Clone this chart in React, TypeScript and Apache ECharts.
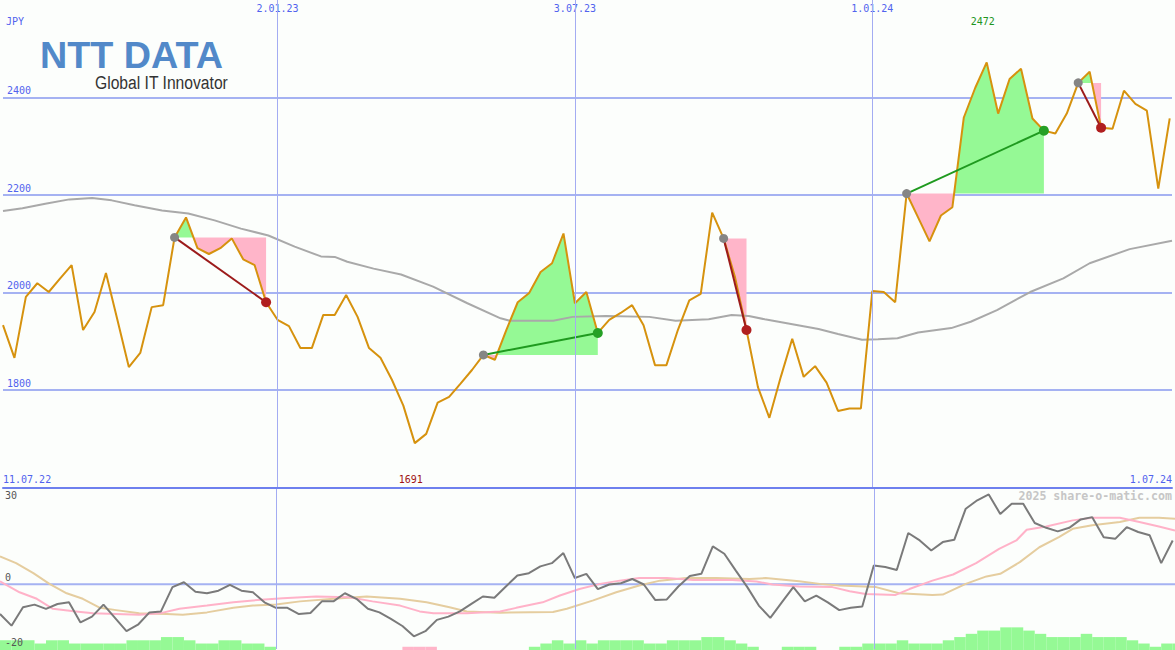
import React, { useEffect, useRef } from "react";
import * as echarts from "echarts";

// ---------- data (week index k = 0 .. 102) ----------
const priceValues = [
  1933, 1866, 1991, 2019, 2001, 2029, 2056, 1923, 1960, 2040,
  1944, 1847, 1876, 1970, 1974, 2113, 2154, 2091, 2079, 2091,
  2111, 2068, 2056, 1980, 1944, 1931, 1886, 1886, 1954, 1954,
  1995, 1950, 1886, 1866, 1821, 1768, 1691, 1710, 1774, 1786,
  1813, 1841, 1872, 1862, 1923, 1980, 1999, 2042, 2060, 2121,
  1978, 2001, 1917, 1944, 1958, 1974, 1933, 1851, 1851, 1923,
  1984, 1997, 2164, 2111, 2031, 1923, 1806, 1743, 1827, 1905,
  1827, 1849, 1815, 1757, 1762, 1762, 2003, 2001, 1980, 2203,
  2154, 2105, 2158, 2175, 2359, 2420, 2472, 2367, 2438, 2459,
  2357, 2332, 2326, 2367, 2430, 2453, 2338, 2336, 2414, 2387,
  2373, 2213, 2357,
];

const maLine = [
  [0, 2167], [1.7, 2173], [3.7, 2182], [5.8, 2191], [7.8, 2194], [9.5, 2189],
  [11.5, 2179], [13.9, 2168], [16.2, 2162], [18.5, 2148], [20.8, 2131], [23.2, 2117],
  [25.5, 2094], [27.8, 2074], [29, 2073], [30.1, 2063], [32.4, 2049], [34.8, 2037],
  [37.6, 2012], [40.6, 1978], [43.5, 1947], [44.3, 1942], [48.1, 1942], [49.8, 1950],
  [52.7, 1952], [56.5, 1950], [58.8, 1942], [61.7, 1945], [63.7, 1954], [65.2, 1952],
  [66.6, 1945], [69.5, 1933], [71.3, 1925], [73, 1915], [75.1, 1903], [76.5, 1904],
  [78.2, 1906], [80, 1918], [82.9, 1927], [84.6, 1940], [86.9, 1964], [89.8, 2001],
  [92.7, 2029], [95, 2060], [98.5, 2089], [102.2, 2106],
];

const oscValues = [
  -9.2, -12.8, -7.1, -6.3, -7.6, -6.1, -5.6, -11.8, -10, -6.3,
  -10.4, -14.5, -12.5, -8.7, -8.4, -0.9, 0.6, -2.3, -2.8, -2,
  -0.2, -2, -2.5, -5.6, -7.3, -7.3, -9.2, -8.9, -5.3, -5.3,
  -2.8, -4.5, -7.6, -8.7, -10.7, -12.9, -16.1, -14.5, -11, -10,
  -8.4, -6.1, -3.8, -4.2, -0.7, 2.7, 3.4, 5.5, 6.5, 9.6,
  1.9, 3.2, -1.5, -0.1, 0.3, 1.6, -0.1, -4.9, -4.7, -0.7,
  2.5, 3.2, 11.7, 9.4, 4.2, -0.9, -6.6, -10.4, -5.6, -0.9,
  -5.3, -3.5, -5.6, -8, -7.3, -6.9, 5.8, 5.3, 4.4, 15.8,
  13.5, 10.4, 13, 13.7, 23.3, 25.9, 27.7, 21.7, 24.8, 24.8,
  18.9, 17.4, 16.3, 17.4, 20, 20.7, 14.5, 14, 17.6, 16.1,
  15.1, 6.5, 13.5,
];

const pinkLine = [
  [0, 0.9], [1.7, -2.5], [3.2, -4.5], [4.6, -7.6], [6.6, -8.4], [8.1, -9.0],
  [10.1, -9.2], [12.1, -9.4], [13.9, -9.0], [15.6, -7.6], [18, -6.6], [20.3, -5.6],
  [22, -5.0], [24.6, -4.3], [27.5, -3.8], [30.4, -4.0], [32.4, -5.3], [34.8, -6.6],
  [36.5, -8.4], [37.7, -9.0], [40.6, -9.0], [43.5, -8.4], [44.9, -7.3], [47.2, -5.6],
  [48.7, -3.5], [50.4, -1.5], [52.2, 0.1], [53.9, 1.1], [55.6, 1.9], [58, 1.9],
  [60.3, 1.3], [63.7, 1.3], [65.8, 0.8], [67.2, -0.1], [69.5, -0.7], [72.4, -0.9],
  [73.9, -2.2], [75.3, -3.0], [77.9, -3.3], [79.1, -1.5], [81.1, 1.1], [82.9, 3.0],
  [84.9, 6.5], [86.9, 10.9], [88.4, 13.5], [89.3, 16.8], [91, 17.8], [93.3, 19.7],
  [95, 20.5], [97.4, 20.5], [99.1, 19.2], [100.8, 17.8], [102.2, 16.6],
];

const tanLine = [
  [0, 8.6], [1.4, 6.5], [2.9, 3.4], [4.3, 0.1], [5.8, -2.8], [7.2, -4.5],
  [8.7, -7.3], [10.1, -8.0], [12.1, -9.0], [14.5, -9.2], [15.9, -9.4], [18, -8.7],
  [20.3, -7.3], [22, -6.6], [24, -6.3], [26.1, -5.3], [29, -4.5], [31.9, -3.8],
  [34.8, -4.5], [37.1, -5.6], [39.1, -7.1], [40.6, -8.4], [43.5, -8.8], [48.1, -8.6],
  [49.3, -7.6], [51.6, -5.0], [53.6, -2.5], [55.6, -0.4], [57.4, 1.1], [59.7, 1.9],
  [62.3, 1.9], [65.2, 1.6], [66.6, 1.9], [69.5, 0.9], [71.3, 0.1], [73, -0.4],
  [76.2, -0.9], [78.2, -2.8], [81.1, -3.3], [82, -3.2], [84, 0.1], [85.8, 2.4],
  [87, 3.2], [88.7, 6.8], [90.4, 11.4], [92.1, 14.5], [93.3, 17.1], [95, 18.2],
  [97.4, 19.2], [99.1, 20.5], [100.8, 20.5], [102.2, 20.2],
];

const histValues = [
  3, 3, 3, 2, 3, 3, 2, 2, 2, 2,
  2, 3, 3, 3, 4, 4, 3, 2, 2, 3,
  3, 2, 2, 1, 0, 0, 0, 0, 0, 0,
  0, 0, 0, 0, 0, -1, -1, -1, 0, 0,
  0, 0, 0, 0, 0, 0, 1, 2, 3, 2,
  3, 2, 3, 3, 3, 3, 2, 2, 3, 3,
  3, 4, 4, 3, 2, 1, 0, 0, 1, 1,
  1, 0, 0, 1, 1, 2, 2, 2, 3, 2,
  2, 2, 3, 4, 5, 6, 6, 7, 7, 6,
  5, 4, 4, 4, 5, 4, 4, 4, 3, 2,
  1, 2, 2,
];

const entryIdx = [15, 42, 63, 79, 94];
const exitIdx = [23, 52, 65, 91, 96];

const dateIdx = [24, 50, 76];
const dateLabels = ["2.01.23", "3.07.23", "1.01.24"];
const rangeLabels = ["11.07.22", "1.07.24"];
const priceTicks = { min: 1600, max: 2600, step: 200 };
const oscTicks = { min: -20, max: 30 };

// ---------- styles ----------
const X_MAX = 102.2;
const BG = "#fcfefc";
const GRID_C = "#a5b2f2";
const VGRID_C = "#a3acf2";
const AXIS_C = "#6e80ee";
const BLUE_TXT = "#5163ee";
const MONO = "DejaVu Sans Mono";
const GREEN_FILL = "#95f995";
const PINK_FILL = "#ffb5c9";

export default function App() {
  const ref = useRef<HTMLDivElement>(null);

  useEffect(() => {
    if (!ref.current) return;
    const chart = echarts.init(ref.current, null, { renderer: "svg" });

    const iMax = priceValues.indexOf(Math.max(...priceValues));
    const iMin = priceValues.indexOf(Math.min(...priceValues));

    const fillItem = (params: any, api: any) => {
      const s = api.value(0);
      const e = api.value(1);
      const E = priceValues[s];
      const pts: number[][] = [[s, priceValues[s]]];
      for (let i = s; i < e; i++) {
        const a = priceValues[i];
        const b = priceValues[i + 1];
        if ((a - E) * (b - E) < 0) {
          const t = (E - a) / (b - a);
          pts.push([i + t, E]);
        }
        pts.push([i + 1, b]);
      }
      const base = [api.coord([e, E]), api.coord([s, E])];
      const up = pts.map(([x, v]) => api.coord([x, Math.max(v, E)])).concat(base);
      const dn = pts.map(([x, v]) => api.coord([x, Math.min(v, E)])).concat(base);
      return {
        type: "group",
        children: [
          { type: "polygon", shape: { points: up }, style: { fill: GREEN_FILL } },
          { type: "polygon", shape: { points: dn }, style: { fill: PINK_FILL } },
        ],
      };
    };

    const tradeItem = (params: any, api: any) => {
      const s = api.value(0);
      const e = api.value(1);
      const p0 = api.coord([s, priceValues[s]]);
      const p1 = api.coord([e, priceValues[e]]);
      const win = priceValues[e] > priceValues[s];
      return {
        type: "group",
        children: [
          {
            type: "line",
            shape: { x1: p0[0], y1: p0[1], x2: p1[0], y2: p1[1] },
            style: { stroke: win ? "#1f9a1f" : "#9c1b1b", lineWidth: 2 },
          },
          { type: "circle", shape: { cx: p0[0], cy: p0[1], r: 4.5 }, style: { fill: "#858585" } },
          {
            type: "circle",
            shape: { cx: p1[0], cy: p1[1], r: 5 },
            style: { fill: win ? "#25a025" : "#b01f1f" },
          },
        ],
      };
    };

    const vLines = {
      silent: true,
      symbol: ["none", "none"],
      label: { show: false },
      lineStyle: { color: VGRID_C, width: 1, type: "solid" },
      data: dateIdx.map((x) => ({ xAxis: x })),
    };

    const plain = (v: number) => String(v);

    const option: any = {
      animation: false,
      backgroundColor: BG,
      grid: [
        { left: 0, right: 0, top: -1, height: 488.5 },
        { left: 0, right: 0, top: 487, height: 162 },
        { left: 0, right: 0, top: 487, height: 163 },
      ],
      xAxis: [
        {
          type: "value", gridIndex: 0, min: 0, max: X_MAX, position: "bottom", z: 6,
          axisLine: { show: true, onZero: false, lineStyle: { color: AXIS_C, width: 2 } },
          axisTick: { show: false }, splitLine: { show: false },
          axisLabel: {
            show: true, inside: true, margin: 3, customValues: [0, X_MAX],
            formatter: (v: number) => (v === 0 ? rangeLabels[0] : rangeLabels[1]),
            alignMinLabel: "left", alignMaxLabel: "right",
            color: BLUE_TXT, fontFamily: MONO, fontSize: 10,
          },
        },
        {
          type: "value", gridIndex: 0, min: 0, max: X_MAX, position: "top",
          axisLine: { show: false }, axisTick: { show: false }, splitLine: { show: false },
          axisLabel: {
            show: true, inside: true, margin: 3, customValues: dateIdx,
            formatter: (v: number) => {
              const i = dateIdx.indexOf(v);
              return i >= 0 ? dateLabels[i] : "";
            },
            color: BLUE_TXT, fontFamily: MONO, fontSize: 10,
          },
        },
        { type: "value", gridIndex: 1, min: 0, max: X_MAX, show: false },
        { type: "value", gridIndex: 2, min: 0, max: X_MAX, show: false },
      ],
      yAxis: [
        {
          type: "value", gridIndex: 0, min: priceTicks.min, max: priceTicks.max,
          interval: priceTicks.step, position: "left",
          axisLine: { show: false }, axisTick: { show: false },
          splitLine: {
            show: true, showMinLine: false, showMaxLine: false,
            lineStyle: { color: GRID_C, width: 2 },
          },
          axisLabel: {
            inside: true, margin: 4, verticalAlign: "bottom", formatter: plain,
            padding: [0, 0, 2, 0],
            showMinLabel: false, showMaxLabel: false,
            color: BLUE_TXT, fontFamily: MONO, fontSize: 10,
          },
        },
        {
          type: "value", gridIndex: 1, min: oscTicks.min, max: oscTicks.max, position: "left", z: 8,
          axisLine: { show: false }, axisTick: { show: false }, splitLine: { show: false },
          axisLabel: {
            inside: true, margin: 5, verticalAlign: "bottom", formatter: plain,
            customValues: [oscTicks.min, 0], padding: [0, 0, 2, 0],
            color: "#555555", fontFamily: MONO, fontSize: 10,
          },
        },
        {
          type: "value", gridIndex: 1, min: oscTicks.min, max: oscTicks.max, position: "left", z: 8,
          axisLine: { show: false }, axisTick: { show: false }, splitLine: { show: false },
          axisLabel: {
            inside: true, margin: 5, verticalAlign: "top", formatter: plain,
            customValues: [oscTicks.max], padding: [3, 0, 0, 0],
            color: "#555555", fontFamily: MONO, fontSize: 10,
          },
        },
        { type: "value", gridIndex: 2, min: 0, max: 50.4, show: false },
      ],
      graphic: [
        {
          type: "text", x: 6, y: 21.5, silent: true,
          style: {
            text: "JPY", fill: BLUE_TXT, font: `10px "${MONO}"`,
            align: "left", verticalAlign: "middle",
          },
        },
        {
          type: "text", x: 1172, y: 496, silent: true, z: 10,
          style: {
            text: "2025 share-o-matic.com", fill: "#c6c6c6",
            font: `bold 11.6px "${MONO}"`, align: "right", verticalAlign: "middle",
          },
        },
        {
          type: "text", x: 40, y: 55, scaleX: 1.02, silent: true,
          style: {
            text: "NTT DATA", fill: "#5289c9",
            font: `bold 37px "Liberation Sans"`, align: "left", verticalAlign: "middle",
          },
        },
        {
          type: "text", x: 95, y: 83, scaleX: 0.87, silent: true,
          style: {
            text: "Global IT Innovator", fill: "#333333",
            font: `18px "Liberation Sans"`, align: "left", verticalAlign: "middle",
          },
        },
      ],
      series: [
        {
          type: "bar", xAxisIndex: 3, yAxisIndex: 3, barWidth: 11.5, z: 1, silent: true,
          data: histValues
            .map((v, k) =>
              v === 0
                ? null
                : { value: [k + 0.5, Math.abs(v)], itemStyle: { color: v > 0 ? GREEN_FILL : PINK_FILL } }
            )
            .filter((d) => d !== null),
        },
        {
          type: "custom", xAxisIndex: 0, yAxisIndex: 0, z: 1, silent: true,
          renderItem: fillItem,
          encode: { x: 0, y: 2 },
          data: entryIdx.map((s, i) => [s, exitIdx[i], priceValues[s]]),
        },
        {
          type: "line", xAxisIndex: 0, yAxisIndex: 0, z: 2, silent: true,
          symbol: "none", data: maLine,
          lineStyle: { color: "#a9a9a9", width: 2 },
          markLine: vLines,
        },
        {
          type: "line", xAxisIndex: 0, yAxisIndex: 0, z: 3, silent: true,
          symbol: "none", data: priceValues.map((v, k) => [k, v]),
          lineStyle: { color: "#d6920e", width: 2 },
          markPoint: {
            symbol: "circle", symbolSize: 0, silent: true,
            label: {
              show: true, position: "inside", formatter: "{c}",
              fontFamily: MONO, fontSize: 10, offset: [-4, 0],
            },
            data: [
              { coord: [iMax, 2555], value: priceValues[iMax], label: { color: "#1e961e" } },
              { coord: [iMin, 1617], value: priceValues[iMin], label: { color: "#a01414" } },
            ],
          },
        },
        {
          type: "custom", xAxisIndex: 0, yAxisIndex: 0, z: 4, silent: true,
          renderItem: tradeItem,
          encode: { x: 0, y: 2 },
          data: entryIdx.map((s, i) => [s, exitIdx[i], priceValues[s]]),
        },
        {
          type: "line", xAxisIndex: 2, yAxisIndex: 1, z: 2, silent: true,
          symbol: "none", data: tanLine,
          lineStyle: { color: "#e5cd9f", width: 2 },
          markLine: vLines,
        },
        {
          type: "line", xAxisIndex: 2, yAxisIndex: 1, z: 1, silent: true,
          symbol: "none", data: [[0, 0], [X_MAX, 0]],
          lineStyle: { color: GRID_C, width: 2 },
        },
        {
          type: "line", xAxisIndex: 2, yAxisIndex: 1, z: 3, silent: true,
          symbol: "none", data: pinkLine,
          lineStyle: { color: "#ffb2c8", width: 2 },
        },
        {
          type: "line", xAxisIndex: 2, yAxisIndex: 1, z: 4, silent: true,
          symbol: "none", data: oscValues.map((v, k) => [k, v]),
          lineStyle: { color: "#7a7a7a", width: 2 },
        },
      ],
    };

    chart.setOption(option);
    return () => chart.dispose();
  }, []);

  return (
    <div
      ref={ref}
      style={{ position: "absolute", left: 0, top: 0, width: 1175, height: 650, background: BG }}
    />
  );
}
